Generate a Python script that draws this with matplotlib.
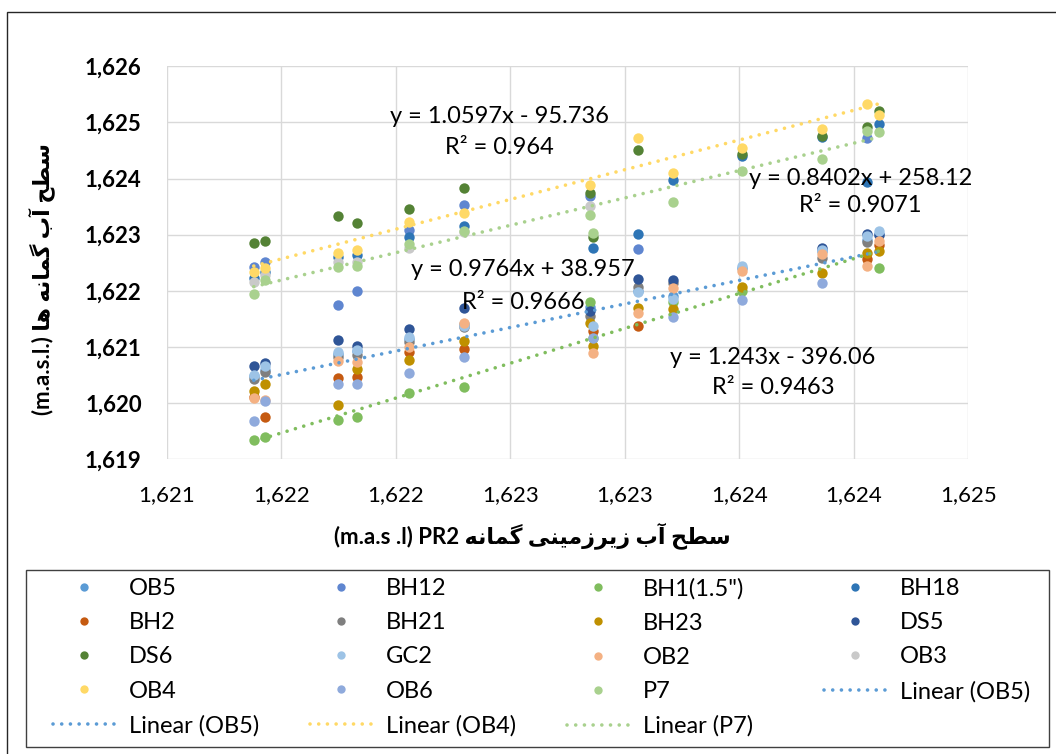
import numpy as np
import matplotlib
matplotlib.use("Agg")
import matplotlib.pyplot as plt
from matplotlib.lines import Line2D
from matplotlib.patches import Rectangle
from matplotlib.ticker import FuncFormatter, MultipleLocator

plt.rcParams['font.family'] = ['Lato', 'DejaVu Sans']

nan = np.nan

# x: water level of PR2 (one x per sampling date)
x_pr2 = [1621.38, 1621.43, 1621.75, 1621.83, 1622.06, 1622.30, 1622.85,
         1622.86, 1623.06, 1623.21, 1623.51, 1623.86, 1624.06, 1624.11]

# water level in each well
OB5 = [1620.48, 1620.58, 1620.88, 1620.92, 1621.14, 1621.40, 1621.71,
       nan, 1622.00, 1621.90, 1622.40, 1622.70, 1622.90, 1623.02]
BH12 = [1622.42, 1622.51, 1621.75, 1622.00, 1623.08, 1623.53, 1623.69,
        nan, 1622.74, nan, nan, nan, 1624.73, nan]
BH1 = [1619.34, 1619.40, 1619.70, 1619.75, 1620.18, 1620.29, 1621.80,
       1621.16, nan, 1621.80, 1622.00, nan, nan, 1622.40]
BH18 = [1622.23, 1622.33, 1622.60, 1622.64, 1622.96, 1623.15, nan,
        1622.76, 1623.01, 1623.97, 1624.40, 1624.74, 1623.94, 1624.97]
BH2 = [1620.10, 1619.75, 1620.44, 1620.47, 1620.91, 1620.96, nan,
       1621.29, 1621.37, nan, nan, nan, 1622.56, 1622.81]
BH21 = [1620.42, 1620.56, 1620.81, 1620.85, 1621.09, 1621.36, 1621.55,
        nan, 1622.07, 1622.14, nan, 1622.58, 1622.86, nan]
BH23 = [1620.22, 1620.33, 1619.96, 1620.61, 1620.76, 1621.11, 1621.43,
        1621.01, 1621.69, 1621.67, 1622.06, 1622.32, 1622.67, 1622.71]
DS5 = [1620.66, 1620.71, 1621.12, 1621.01, 1621.31, 1621.70, 1621.63,
       nan, 1622.21, 1622.19, nan, 1622.77, 1623.02, 1622.99]
DS6 = [1622.85, 1622.89, 1623.34, 1623.20, 1623.45, 1623.84, 1623.74,
       1622.95, 1624.51, nan, 1624.44, 1624.76, 1624.91, 1625.21]
GC2 = [1620.50, 1620.65, 1620.91, 1620.94, 1621.18, 1621.38, nan,
       1621.37, 1621.98, 1621.86, 1622.44, 1622.72, 1622.98, 1623.07]
OB2 = [1620.09, 1620.05, 1620.75, 1620.73, 1620.99, 1621.43, nan,
       1620.89, 1621.60, 1622.04, 1622.36, 1622.65, 1622.44, 1622.89]
OB3 = [1622.16, 1622.28, 1622.52, 1622.52, 1622.76, 1623.05, 1623.51,
       nan, nan, nan, nan, nan, nan, nan]
OB4 = [1622.34, 1622.40, 1622.68, 1622.73, 1623.22, 1623.38, 1623.88,
       nan, 1624.73, 1624.09, 1624.54, 1624.88, 1625.33, 1625.13]
OB6 = [1619.68, 1620.03, 1620.33, 1620.33, 1620.54, 1620.81, nan,
       1621.15, nan, 1621.54, 1621.83, 1622.14, nan, nan]
P7 = [1621.95, 1622.20, 1622.42, 1622.44, 1622.83, 1623.06, 1623.35,
      1623.03, nan, 1623.59, 1624.14, 1624.35, 1624.85, 1624.83]

names = ["OB5", "BH12", 'BH1(1.5")', "BH18", "BH2", "BH21", "BH23", "DS5",
         "DS6", "GC2", "OB2", "OB3", "OB4", "OB6", "P7"]
values = [OB5, BH12, BH1, BH18, BH2, BH21, BH23, DS5,
          DS6, GC2, OB2, OB3, OB4, OB6, P7]
colors = ["#5B9BD5", "#5F86D0", "#80BD5E", "#2E75B6", "#C55A11", "#7F7F7F",
          "#BF9000", "#2F5597", "#548235", "#9DC3E6", "#F4B183", "#C9C9C9",
          "#FFD966", "#8FAADC", "#A9D18E"]

# trendlines as printed on the chart
trend_series = ["OB5", "OB4", "P7", 'BH1(1.5")']
trend_slope = [0.8402, 1.0597, 0.9764, 1.243]
trend_icpt = [258.12, -95.736, 38.957, -396.06]
trend_r2 = ["0.9071", "0.964", "0.9666", "0.9463"]

DOT = (0, (0.01, 2.4))

fig = plt.figure(figsize=(10.56, 7.54), dpi=100)
ax = fig.add_axes([0.1579, 0.3912, 0.759, 0.5208])

for name, vals, col in zip(names, values, colors):
    ax.scatter(x_pr2, vals, s=56, color=col, zorder=3, linewidths=0, label=name)

xs = np.array(x_pr2)
for sname, m, b in zip(trend_series, trend_slope, trend_icpt):
    i = names.index(sname)
    ok = ~np.isnan(np.array(values[i], dtype=float))
    xx = np.array([xs[ok].min(), xs[ok].max()])
    ax.plot(xx, m * xx + b, color=colors[i], lw=2.6,
            linestyle=DOT, dash_capstyle="round", zorder=4)

ax.set_xlim(1621, 1624.5)
ax.set_ylim(1619, 1626)
ax.xaxis.set_major_locator(MultipleLocator(0.5))
ax.yaxis.set_major_locator(MultipleLocator(1))
ax.xaxis.set_major_formatter(FuncFormatter(lambda v, p: f"{int(np.floor(v + 0.5)):,}"))
ax.yaxis.set_major_formatter(FuncFormatter(lambda v, p: f"{int(np.floor(v + 0.5)):,}"))
ax.grid(True, color="#D9D9D9", lw=1.0, zorder=0)
ax.set_axisbelow(True)
for s in ax.spines.values():
    s.set_visible(False)
ax.tick_params(axis="both", length=0)
ax.tick_params(axis="x", pad=19, labelsize=16, labelcolor="#000000")
ax.tick_params(axis="y", pad=18, labelsize=16)
for t in ax.get_yticklabels():
    t.set_fontweight("bold")

# equation labels
eq_pos = {"OB5": (1624.028, 1624.009, 1623.528),
          "OB4": (1622.451, 1625.114, 1624.561),
          "P7": (1622.557, 1622.387, 1621.799),
          'BH1(1.5")': (1623.648, 1620.818, 1620.283)}
for sname, m, b, r2 in zip(trend_series, trend_slope, trend_icpt, trend_r2):
    sign = "+" if b >= 0 else "-"
    cx, y1, y2 = eq_pos[sname]
    ax.text(cx, y1, f"y = {m:g}x {sign} {abs(b):g}", ha="center", va="center",
            fontsize=17, zorder=5)
    ax.text(cx, y2, f"R\u00b2 = {r2}", ha="center", va="center", fontsize=17, zorder=5)

# axis titles (Persian, shaped glyphs in visual order)
x_title = ("(m.a.s .l) PR2 "
           "\uFEEA\uFEE7\uFE8E\uFEE4\uFB94 "
           "\uFBFD\uFEE8\uFBFF\uFEE3\uFEAF\uFEAE\uFBFE\uFEAF "
           "\uFE8F\uFE81 "
           "\uFEA2\uFEC4\uFEB3")
y_title = ("(m.a.s.l.) "
           "\uFE8E\uFEEB "
           "\uFEEA\uFEE7\uFE8E\uFEE4\uFB94 "
           "\uFE8F\uFE81 "
           "\uFEA2\uFEC4\uFEB3")
fig.text(532 / 1056, 1 - 536 / 754, x_title, ha="center", va="center",
         fontsize=16, fontweight="bold")
fig.text(42 / 1056, 1 - 279 / 754, y_title, ha="center", va="center",
         fontsize=16, fontweight="bold", rotation=90)

# outer chart border (cropped at right and bottom)
fig.patches.append(Rectangle((7 / 1056, -0.1), 1.2, 1.1 - 12 / 754,
                             transform=fig.transFigure, fill=False,
                             edgecolor="#262626", lw=1.0))

# legend frame
fig.patches.append(Rectangle((26 / 1056, 1 - 747 / 754), 1023 / 1056, 177 / 754,
                             transform=fig.transFigure, fill=False,
                             edgecolor="#404040", lw=1.0))


def pt(name):
    i = names.index(name)
    return Line2D([], [], marker="o", ls="none", markersize=6,
                  markerfacecolor=colors[i], markeredgewidth=0, label=name)


def tl(name, col):
    return Line2D([], [], color=col, lw=2.6, linestyle=DOT,
                  dash_capstyle="round", label=f"Linear ({name})")


legend_cols = [
    [pt("OB5"), pt("BH2"), pt("DS6"), pt("OB4"), tl("OB5", colors[0])],
    [pt("BH12"), pt("BH21"), pt("GC2"), pt("OB6"), tl("OB4", colors[12])],
    [pt('BH1(1.5")'), pt("BH23"), pt("OB2"), pt("P7"), tl("P7", colors[14])],
    [pt("BH18"), pt("DS5"), pt("OB3"), tl("OB5", colors[0])],
]
col_x = [52.5, 309.5, 566.5, 823.5]
for hx, handles in zip(col_x, legend_cols):
    fig.legend(handles=handles, loc="upper left",
               bbox_to_anchor=(hx / 1056, 1 - 578 / 754), frameon=False,
               fontsize=17, handlelength=2.67, handletextpad=0.55,
               labelspacing=0.56, borderpad=0, borderaxespad=0)

fig.savefig("out.png", dpi=100)
